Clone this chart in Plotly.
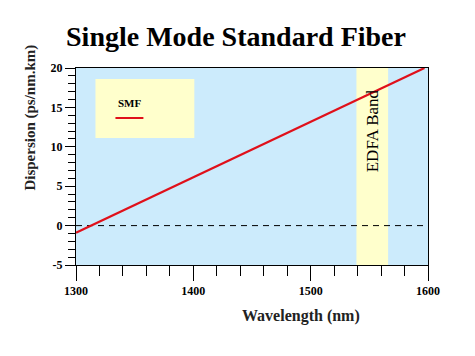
import plotly.graph_objects as go

# Data
wavelength_nm = [1300, 1597]
dispersion_smf = [-0.9, 20.0]
zero_x = [1300, 1600]
zero_y = [0, 0]
edfa_band = [1539, 1566]
x_tick_vals = [1300, 1400, 1500, 1600]
x_tick_text = ["1300", "1400", "1500", "1600"]
y_tick_vals = [-5, 0, 5, 10, 15, 20]
y_tick_text = ["-5", "0", "5", "10", "15", "20"]

SERIF = "Liberation Serif, Times New Roman, serif"

W, H = 475, 356
OFF = 8  # page body margin
# plot area in page pixels (from reference)
L, R, T, B = 75.5, 428.0, 68.0, 265.0
PW, PH = R - L, B - T


def px(x):
    return (x - L) / PW


def py(y):
    return (B - y) / PH


fig = go.Figure()

# EDFA band
fig.add_shape(type="rect", xref="x", yref="y", x0=edfa_band[0], x1=edfa_band[1],
              y0=-5, y1=20, fillcolor="#FFFFCC", line=dict(width=0), layer="below")

fig.add_trace(go.Scatter(x=zero_x, y=zero_y, mode="lines",
                         line=dict(color="black", width=1, dash="6px,5px"),
                         showlegend=False, hoverinfo="skip"))
fig.add_trace(go.Scatter(x=wavelength_nm, y=dispersion_smf, mode="lines", name="SMF",
                         line=dict(color="#E0101A", width=2.2), showlegend=False))

# Legend box (custom)
fig.add_shape(type="rect", xref="paper", yref="paper",
              x0=px(95), x1=px(194), y0=py(138), y1=py(79),
              fillcolor="#FFFFCC", line=dict(width=0))
fig.add_shape(type="line", xref="paper", yref="paper",
              x0=px(115), x1=px(143), y0=py(118), y1=py(118),
              line=dict(color="#E0101A", width=2))
fig.add_annotation(text="<b>SMF</b>", xref="paper", yref="paper",
                   x=px(130), y=py(103), xanchor="center", yanchor="middle", showarrow=False,
                   font=dict(family=SERIF, size=11, color="black"))

# EDFA Band label
fig.add_annotation(text="EDFA Band", xref="x", yref="paper", x=sum(edfa_band) / 2,
                   y=py(131), xanchor="center", yanchor="middle", textangle=-90, showarrow=False,
                   font=dict(family=SERIF, size=17, color="black"))

# Axis titles
fig.add_annotation(text="<b>Dispersion (ps/nm.km)</b>", xref="paper", yref="paper",
                   x=px(29), y=py(118), xanchor="center", yanchor="middle", textangle=-90,
                   showarrow=False, font=dict(family=SERIF, size=15, color="#222"))
fig.add_annotation(text="<b>Wavelength (nm)</b>", xref="paper", yref="paper",
                   x=px(301), y=py(316), xanchor="center", yanchor="middle",
                   showarrow=False, font=dict(family=SERIF, size=16, color="#222"))

fig.update_layout(
    width=W, height=H,
    margin=dict(l=L - OFF, r=W - (R - OFF), t=T - OFF, b=H - (B - OFF), autoexpand=False),
    paper_bgcolor="white",
    plot_bgcolor="#CCEBFC",
    title=dict(text="<b>Single Mode Standard Fiber</b>", x=(236 - OFF) / W, xanchor="center",
               y=1 - (36 - OFF) / H, yanchor="middle",
               font=dict(family=SERIF, size=28, color="black")),
    showlegend=False,
)
fig.update_xaxes(range=[1300, 1600], tickvals=x_tick_vals,
                 ticktext=["<b>%s</b>" % t for t in x_tick_text],
                 ticks="outside", ticklen=15, tickcolor="black", tickwidth=1,
                 minor=dict(dtick=20, ticks="outside", ticklen=10, tickcolor="black", showgrid=False),
                 showline=True, linecolor="black", linewidth=1, mirror=True,
                 showgrid=False, zeroline=False, automargin=False,
                 tickfont=dict(family=SERIF, size=12, color="black"))
fig.update_yaxes(range=[-5, 20], tickvals=y_tick_vals,
                 ticktext=["<b>%s</b>" % t for t in y_tick_text],
                 ticks="outside", ticklen=10, tickcolor="black", tickwidth=1,
                 minor=dict(dtick=1, ticks="outside", ticklen=7, tickcolor="black", showgrid=False),
                 showline=True, linecolor="black", linewidth=1, mirror=True,
                 showgrid=False, zeroline=False, automargin=False,
                 tickfont=dict(family=SERIF, size=12, color="black"))

fig.write_html("out.html")
